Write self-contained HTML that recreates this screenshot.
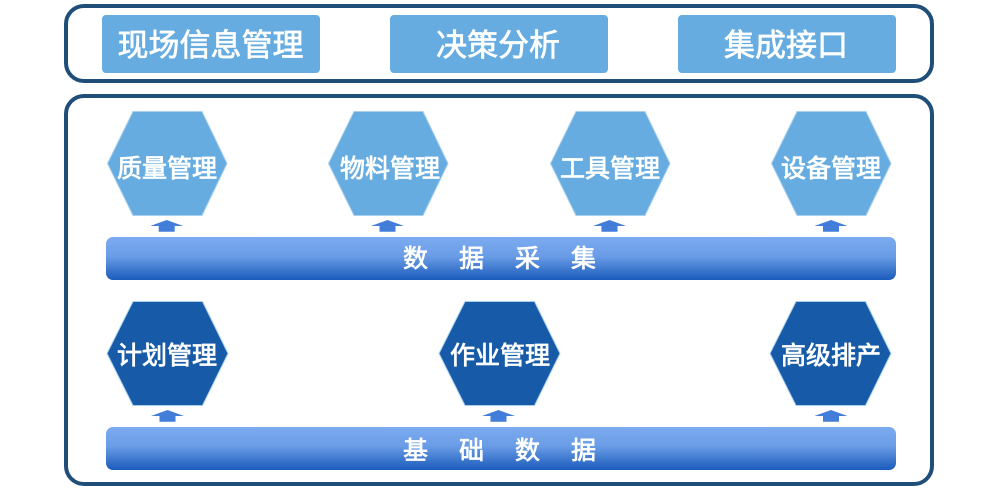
<!DOCTYPE html>
<html><head><meta charset="utf-8"><style>
html,body{margin:0;padding:0;background:#fff;width:1000px;height:492px;overflow:hidden}
svg{display:block}
text{font-family:"Liberation Sans","Noto Sans CJK SC",sans-serif;fill:#fff;text-anchor:middle}
.t{font-size:31px;stroke:#fff;stroke-width:.7px}
.h{font-size:25px;stroke:#fff;stroke-width:.8px}
.b{font-size:25px;stroke:#fff;stroke-width:.7px}
</style></head><body>
<svg width="1000" height="492" viewBox="0 0 1000 492" xmlns="http://www.w3.org/2000/svg">
<defs>
<linearGradient id="g" x1="0" y1="0" x2="0" y2="1"><stop offset="0" stop-color="#7cabf0"/><stop offset=".45" stop-color="#6a9ce6"/><stop offset="1" stop-color="#1a5bbb"/></linearGradient>
<polygon id="hx" points="-59.5,0 -34,-52 35,-52 60,0 35,52 -34,52" stroke="#a8d0ee" stroke-width="1"/>
<polygon id="hx2" points="-60.5,0 -34.5,-52 35,-52 60.5,0 35,52 -34.5,52" stroke="#a8d0ee" stroke-width="1"/>
<polygon id="ar" points="0,0 16.5,6 8,6 8,11.7 -8,11.7 -8,6 -16.5,6" fill="#427dd9"/>
</defs>
<rect x="66" y="6" width="866" height="75" rx="18" fill="#fff" stroke="#1f4e79" stroke-width="4"/>
<rect x="66" y="96" width="866" height="388" rx="18" fill="#fff" stroke="#1f4e79" stroke-width="4"/>
<rect x="102" y="15" width="218" height="58" rx="4" fill="#66ace0"/>
<rect x="390" y="15" width="218" height="58" rx="4" fill="#66ace0"/>
<rect x="678" y="15" width="218" height="58" rx="4" fill="#66ace0"/>
<text class="t" x="210.500" y="56">现场信息管理</text>
<text class="t" x="498" y="56">决策分析</text>
<text class="t" x="786" y="56">集成接口</text>
<g fill="#66ace0">
<use href="#hx" x="167" y="163.500"/><use href="#hx" x="388" y="163.500"/><use href="#hx" x="610" y="163.500"/><use href="#hx" x="831" y="163.500"/>
</g>
<g fill="#175ba8">
<use href="#hx2" x="167.500" y="353.500"/><use href="#hx2" x="499.500" y="353.500"/><use href="#hx2" x="830.500" y="353.500"/>
</g>
<text class="h" x="167" y="177">质量管理</text>
<text class="h" x="390" y="177">物料管理</text>
<text class="h" x="610" y="177">工具管理</text>
<text class="h" x="831" y="177">设备管理</text>
<text class="h" x="167" y="364">计划管理</text>
<text class="h" x="500" y="364">作业管理</text>
<text class="h" x="831" y="364">高级排产</text>
<use href="#ar" x="166.700" y="220"/><use href="#ar" x="387.500" y="220"/><use href="#ar" x="609.500" y="220"/><use href="#ar" x="831" y="220"/>
<use href="#ar" x="167.500" y="410"/><use href="#ar" x="498.500" y="410"/><use href="#ar" x="831" y="410"/>
<rect x="106" y="237" width="790" height="43" rx="7" fill="url(#g)"/>
<rect x="106" y="427" width="790" height="43" rx="7" fill="url(#g)"/>
<text class="b" x="415.500" y="267">数</text><text class="b" x="471.500" y="267">据</text><text class="b" x="527.500" y="267">采</text><text class="b" x="583.500" y="267">集</text>
<text class="b" x="415.500" y="459">基</text><text class="b" x="471.500" y="459">础</text><text class="b" x="527.500" y="459">数</text><text class="b" x="583.500" y="459">据</text>
</svg>
</body></html>
